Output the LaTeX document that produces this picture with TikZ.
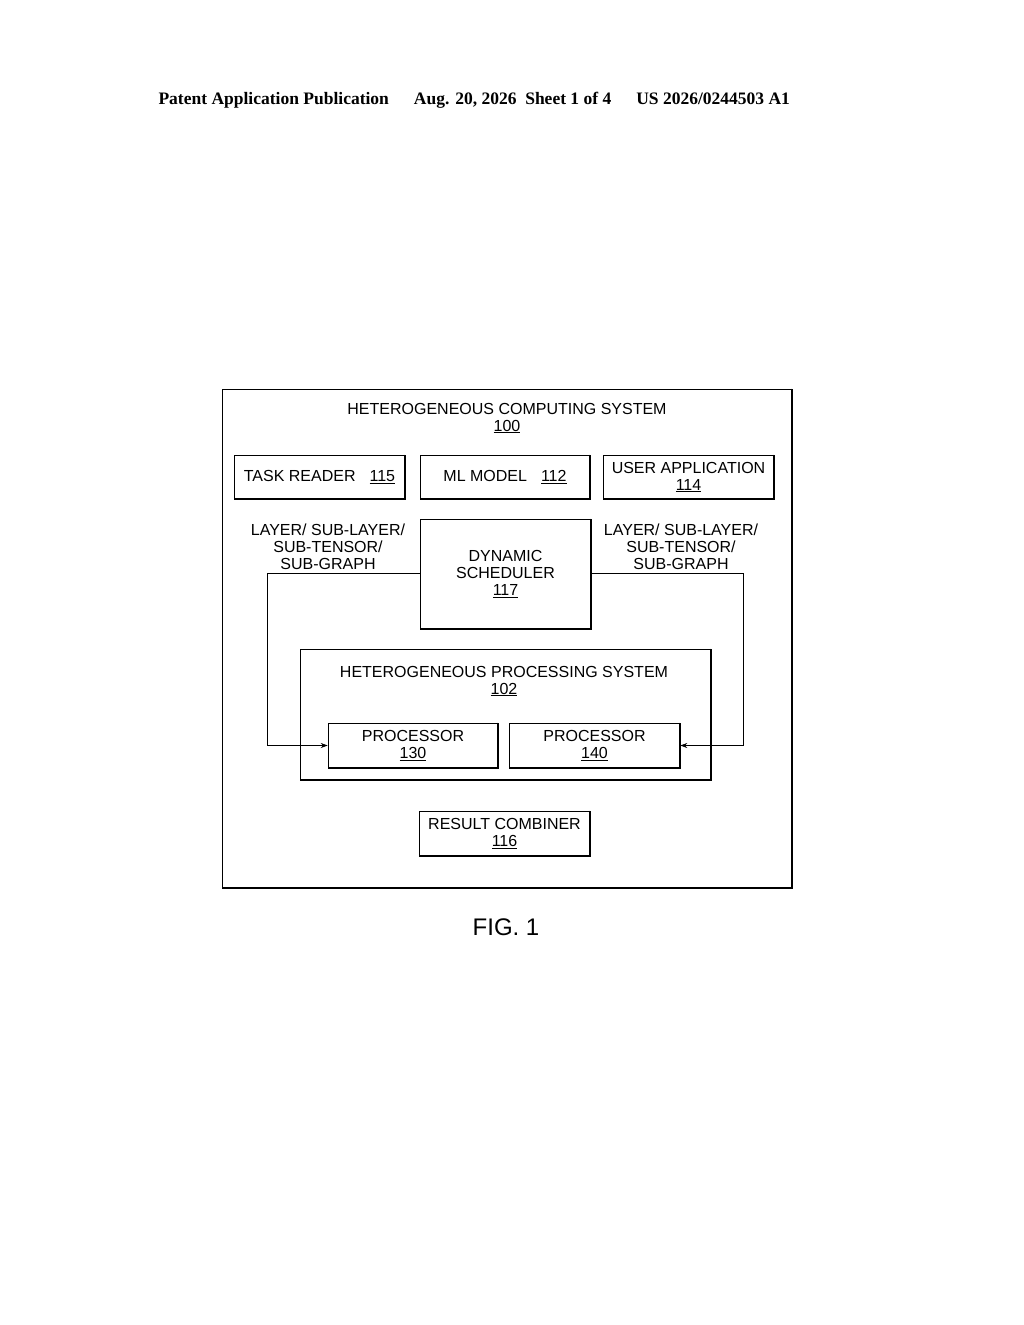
\documentclass[tikz,border=0pt]{standalone}
\usepackage{fontspec}
\setmainfont{Liberation Sans}
\newfontfamily\serifb{Liberation Serif}
\usetikzlibrary{arrows.meta}
\begin{document}
\begin{tikzpicture}[x=1pt,y=-1pt,
  lbl/.style={font=\fontsize{16}{17}\selectfont,align=center},
  bx/.style={draw,line width=0.6pt,rectangle,inner sep=0pt,align=center,font=\fontsize{16}{17}\selectfont,
    append after command={\pgfextra{\draw[line width=1.6pt] ([xshift=-0.8pt]\tikzlastnode.north east)--([xshift=-0.8pt,yshift=0.8pt]\tikzlastnode.south east)--([yshift=0.8pt]\tikzlastnode.south west);}}},
  conn/.style={line width=0.6pt,-{Stealth[length=7pt,width=5pt]}}]
\useasboundingbox[fill=white] (0,0) rectangle (1024,1325);
\node[font=\serifb\bfseries\fontsize{17.5}{19}\selectfont,anchor=west] (hdr) at (155,100) {Patent Application Publication\hspace{25pt}Aug. 20, 2026\ \ Sheet 1 of 4\hspace{25pt}US 2026/0244503 A1};
\node[bx,minimum width=570,minimum height=499] (sys) at (507,638.5) {};
\node[lbl] (t100) at (507,418) {HETEROGENEOUS COMPUTING SYSTEM\\\underline{100}};
\node[bx,minimum width=171,minimum height=44] (tr) at (319.5,477) {TASK READER\hspace{14pt}\underline{115}};
\node[bx,minimum width=170,minimum height=44] (ml) at (505,477) {ML MODEL\hspace{14pt}\underline{112}};
\node[bx,minimum width=171,minimum height=44] (ua) at (688.5,477) {USER APPLICATION\\\underline{114}};
\node[bx,minimum width=171,minimum height=110] (ds) at (505.5,574) {DYNAMIC\\SCHEDULER\\\underline{117}};
\node[bx,minimum width=411,minimum height=131] (hps) at (505.5,714.5) {};
\node[lbl] (t102) at (504,681) {HETEROGENEOUS PROCESSING SYSTEM\\\underline{102}};
\node[bx,minimum width=170,minimum height=45] (p130) at (413,745.5) {PROCESSOR\\\underline{130}};
\node[bx,minimum width=171,minimum height=45] (p140) at (594.5,745.5) {PROCESSOR\\\underline{140}};
\node[bx,minimum width=171,minimum height=45] (rc) at (504.5,833.5) {RESULT COMBINER\\\underline{116}};
\node[lbl] (ll) at (328,547) {LAYER/ SUB-LAYER/\\SUB-TENSOR/\\SUB-GRAPH};
\node[lbl] (rl) at (681,547) {LAYER/ SUB-LAYER/\\SUB-TENSOR/\\SUB-GRAPH};
\draw[conn] (ds.west |- 0,573) -- (267,573) |- (p130.west);
\draw[conn] (ds.east |- 0,573) -- (743,573) |- (p140.east);
\node[font=\fontsize{24}{26}\selectfont] (fig) at (506,927) {FIG. 1};
\end{tikzpicture}
\end{document}
